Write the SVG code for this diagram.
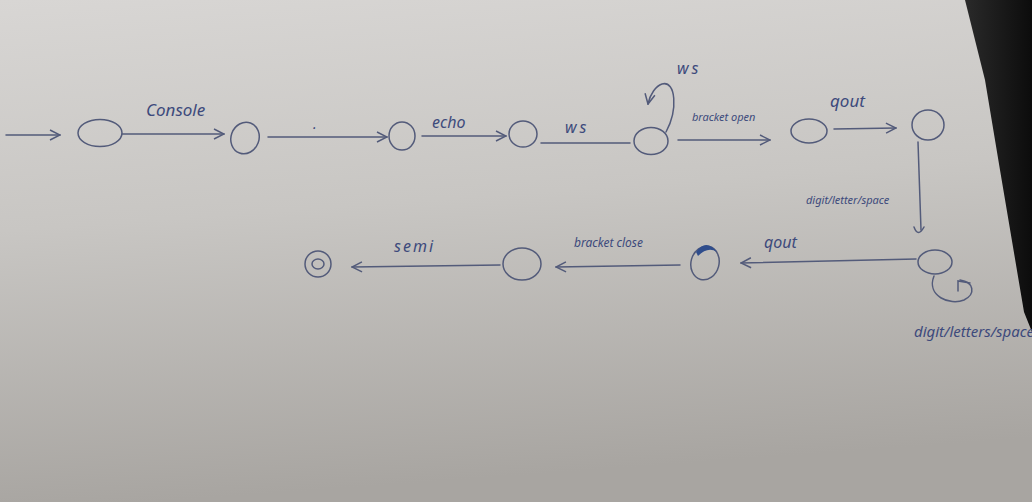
<svg xmlns="http://www.w3.org/2000/svg" width="1032" height="502" viewBox="0 0 1032 502">
<defs>
  <linearGradient id="paper" x1="0" y1="0" x2="0.15" y2="1">
    <stop offset="0" stop-color="#d8d6d4"/>
    <stop offset="0.45" stop-color="#c8c6c3"/>
    <stop offset="1" stop-color="#a8a5a1"/>
  </linearGradient>
  <linearGradient id="shadow" x1="0" y1="0" x2="1" y2="0">
    <stop offset="0" stop-color="#2a2a2a"/>
    <stop offset="1" stop-color="#0c0c0c"/>
  </linearGradient>
  <marker id="chev" viewBox="0 0 12 12" refX="11" refY="6" markerWidth="12" markerHeight="12" markerUnits="userSpaceOnUse" orient="auto">
    <polyline points="1,1 11,6 1,11" fill="none" stroke="#535b7a" stroke-width="1.5"/>
  </marker>
</defs>
<style>
  .ink { fill: none; stroke: #535b7a; stroke-width: 1.5; stroke-linecap: round; }
  .lbl { font-family: "Noto Sans", "DejaVu Sans", sans-serif; font-style: italic; fill: #3d4a7c; }
</style>
<rect x="0" y="0" width="1032" height="502" fill="url(#paper)"/>
<polygon points="965,0 1032,0 1032,332 1024,312 1000,170 985,80" fill="url(#shadow)"/>

<g id="connectors">
  <g id="e-start"><line class="ink" x1="6" y1="135" x2="60" y2="135" marker-end="url(#chev)"/></g>
  <g id="e-console"><line class="ink" x1="122" y1="134" x2="224" y2="134" marker-end="url(#chev)"/>
    <text class="lbl" x="146" y="116" font-size="17">Console</text></g>
  <g id="e-dot"><line class="ink" x1="268" y1="137" x2="387" y2="137" marker-end="url(#chev)"/>
    <text class="lbl" x="313" y="129" font-size="14">.</text></g>
  <g id="e-echo"><line class="ink" x1="422" y1="136" x2="506" y2="136" marker-end="url(#chev)"/>
    <text class="lbl" x="432" y="128" font-size="16">echo</text></g>
  <g id="e-ws"><line class="ink" x1="541" y1="143" x2="630" y2="143"/>
    <text class="lbl" x="565" y="133" font-size="16" letter-spacing="3">ws</text></g>
  <g id="e-wsloop"><path class="ink" d="M666,132 C678,110 676,80 662,84 C656,86 650,94 648,104" marker-end="url(#chev)"/>
    <text class="lbl" x="677" y="74" font-size="16" letter-spacing="3">ws</text></g>
  <g id="e-bopen"><line class="ink" x1="678" y1="140" x2="770" y2="140" marker-end="url(#chev)"/>
    <text class="lbl" x="692" y="121" font-size="11">bracket open</text></g>
  <g id="e-qout1"><line class="ink" x1="834" y1="129" x2="896" y2="128" marker-end="url(#chev)"/>
    <text class="lbl" x="830" y="107" font-size="17">qout</text></g>
  <g id="e-down"><path class="ink" d="M918,142 L921,230"/>
    <path class="ink" d="M914,227 Q918,238 924,227"/>
    <text class="lbl" x="806" y="204" font-size="11">digit/letter/space</text></g>
  <g id="e-loop2"><path class="ink" d="M934,276 C926,296 950,306 964,300 C976,294 974,282 960,280"/>
    <path class="ink" d="M958,291 L958,281 L970,283"/>
    <text class="lbl" x="914" y="337" font-size="15">digit/letters/space</text></g>
  <g id="e-qout2"><line class="ink" x1="916" y1="259" x2="741" y2="263" marker-end="url(#chev)"/>
    <text class="lbl" x="764" y="248" font-size="16">qout</text></g>
  <g id="e-bclose"><line class="ink" x1="680" y1="265" x2="556" y2="267" marker-end="url(#chev)"/>
    <text class="lbl" x="574" y="247" font-size="12">bracket close</text></g>
  <g id="e-semi"><line class="ink" x1="500" y1="265" x2="352" y2="267" marker-end="url(#chev)"/>
    <text class="lbl" x="394" y="252" font-size="16" letter-spacing="2">semi</text></g>
</g>

<g id="n1"><ellipse class="ink" cx="100" cy="133" rx="22" ry="13.5"/></g>
<g id="n2"><ellipse class="ink" cx="245" cy="138" rx="14" ry="16" transform="rotate(20 245 138)"/></g>
<g id="n3"><ellipse class="ink" cx="402" cy="136" rx="13" ry="14"/></g>
<g id="n4"><ellipse class="ink" cx="523" cy="134" rx="14" ry="13"/></g>
<g id="n5"><ellipse class="ink" cx="651" cy="141" rx="17" ry="13.5"/></g>
<g id="n6"><ellipse class="ink" cx="809" cy="131" rx="18" ry="12"/></g>
<g id="n7"><ellipse class="ink" cx="928" cy="125" rx="16" ry="15"/></g>
<g id="n8"><ellipse class="ink" cx="935" cy="262" rx="17" ry="12"/></g>
<g id="n9"><ellipse class="ink" cx="705" cy="263" rx="14" ry="17" transform="rotate(15 705 263)"/>
  <path d="M696,252 Q706,238 717,252 Q708,246 698,256 Z" fill="#2f4d8c"/></g>
<g id="n10"><ellipse class="ink" cx="522" cy="264" rx="19" ry="16"/></g>
<g id="n11"><circle class="ink" cx="318" cy="264" r="13"/><ellipse class="ink" cx="318" cy="264" rx="6" ry="5"/></g>
</svg>
